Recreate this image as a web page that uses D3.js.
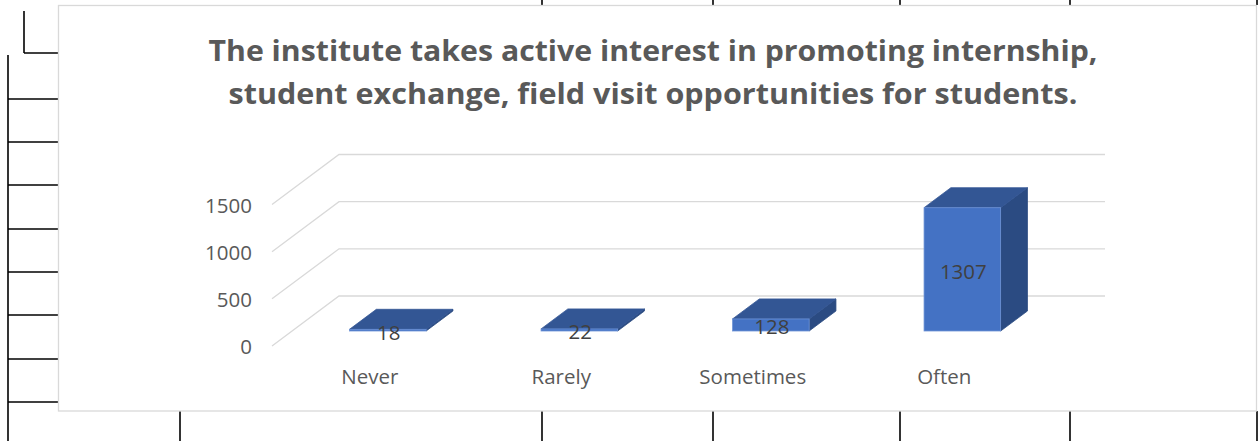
<!DOCTYPE html>
<html>
<head>
<meta charset="utf-8">
<script src="https://cdn.jsdelivr.net/npm/d3@7"></script>
<style>
  html, body { margin: 0; padding: 0; background: #ffffff; }
  svg { display: block; }
</style>
</head>
<body>
<script>
// ---- data ----
const categories = ["Never", "Rarely", "Sometimes", "Often"];
const values = [18, 22, 128, 1307];
const yTicks = [0, 500, 1000, 1500];
const titleLines = [
  "The institute takes active interest in promoting internship,",
  "student exchange, field visit opportunities for students."
];

const W = 1259, H = 441;
const svg = d3.select("body").append("svg").attr("width", W).attr("height", H);

// ---- background spreadsheet cell borders ----
const bg = svg.append("g").attr("stroke", "#000").attr("stroke-width", 1.6).attr("fill", "none");
bg.append("line").attr("x1", 8).attr("x2", 8).attr("y1", 55).attr("y2", H);
[99, 142, 185, 229, 272, 315, 359, 402].forEach(y =>
  bg.append("line").attr("x1", 8).attr("x2", 58).attr("y1", y).attr("y2", y));
bg.append("line").attr("x1", 24).attr("x2", 24).attr("y1", 11).attr("y2", 53);
bg.append("line").attr("x1", 24).attr("x2", 58).attr("y1", 53).attr("y2", 53);
[180, 542, 713, 900, 1070, 1257].forEach(x =>
  bg.append("line").attr("x1", x).attr("x2", x).attr("y1", 411).attr("y2", H));
[542, 713, 900, 1070, 1257].forEach(x =>
  bg.append("line").attr("x1", x).attr("x2", x).attr("y1", 0).attr("y2", 5));

// ---- chart area ----
svg.append("rect").attr("x", 58.5).attr("y", 5.5).attr("width", 1198).attr("height", 405.5)
  .attr("fill", "#fff").attr("stroke", "#d9d9d9").attr("stroke-width", 1.3);

// title
const title = svg.append("g").attr("font-family", "'Open Sans', sans-serif")
  .attr("font-weight", "bold").attr("font-size", 29).attr("fill", "#595959")
  .attr("text-anchor", "middle");
const titleLens = [889, 849];
titleLines.forEach((t, i) => {
  title.append("text").attr("x", 653).attr("y", 61 + i * 43)
    .attr("textLength", titleLens[i]).attr("lengthAdjust", "spacingAndGlyphs").text(t);
});

// ---- 3D geometry ----
const x = d3.scaleBand().domain(categories).range([272, 1038]).paddingInner(0.6).paddingOuter(0.3);
const y = d3.scaleLinear().domain([0, 1500]).range([346, 204.5]);
const DX = 67, DY = -50; // full depth offset
const P = (px, v, d) => [px + d * DX, y(v) + d * DY];
const xFrontStart = 272, xFrontEnd = 1038;

// gridlines (side diagonal + back wall)
const grid = svg.append("g").attr("stroke", "#d9d9d9").attr("stroke-width", 1.3).attr("fill", "none");
yTicks.forEach(v => {
  const a = P(xFrontStart, v, 0), b = P(xFrontStart, v, 1), c = P(xFrontEnd, v, 1);
  grid.append("path").attr("d", d3.line()([a, b, c]));
});

// axis labels
const fontAxis = "'Open Sans', sans-serif";
svg.append("g").selectAll("text").data(yTicks).join("text")
  .attr("x", 252).attr("y", d => y(d) + 1).attr("dy", "0.36em")
  .attr("text-anchor", "end").attr("font-family", fontAxis).attr("font-size", 20.5)
  .attr("fill", "#595959").text(d => d);

svg.append("g").selectAll("text").data(categories).join("text")
  .attr("x", d => x(d) + x.bandwidth() / 2 + 2)
  .attr("y", 384).attr("text-anchor", "middle").attr("font-family", fontAxis)
  .attr("font-size", 20.5).attr("fill", "#595959").text(d => d);

// bars
const d0 = 0.3, d1 = 0.7;
const bars = svg.append("g");
categories.forEach((c, i) => {
  const v = values[i];
  const x0 = x(c), x1 = x(c) + x.bandwidth();
  const g = bars.append("g");
  // side face
  g.append("path").attr("d", d3.line()([P(x1, 0, d0), P(x1, 0, d1), P(x1, v, d1), P(x1, v, d0)]) + "Z")
    .attr("fill", "#2b4b82").attr("stroke", "#2b4b82").attr("stroke-width", 0.8).attr("stroke-linejoin", "round");
  // top face
  g.append("path").attr("d", d3.line()([P(x0, v, d0), P(x1, v, d0), P(x1, v, d1), P(x0, v, d1)]) + "Z")
    .attr("fill", "#335694").attr("stroke", "#335694").attr("stroke-width", 0.8).attr("stroke-linejoin", "round");
  // front face
  const f0 = P(x0, v, d0), f1 = P(x1, 0, d0);
  g.append("rect").attr("x", f0[0]).attr("y", f0[1]).attr("width", f1[0] - f0[0])
    .attr("height", Math.max(0.01, f1[1] - f0[1]))
    .attr("fill", "#4472c4").attr("stroke", "#6e93d6").attr("stroke-width", 0.8);
});

// data labels centered on the front face
svg.append("g").selectAll("text").data(categories).join("text")
  .attr("x", (c) => P(x(c) + x.bandwidth() / 2, 0, d0)[0] + 1)
  .attr("y", (c, i) => (P(0, values[i], d0)[1] + P(0, 0, d0)[1]) / 2 + 2)
  .attr("dy", "0.36em").attr("text-anchor", "middle").attr("font-family", fontAxis)
  .attr("font-size", 20.5).attr("fill", "#404040").text((c, i) => values[i]);
</script>
</body>
</html>
